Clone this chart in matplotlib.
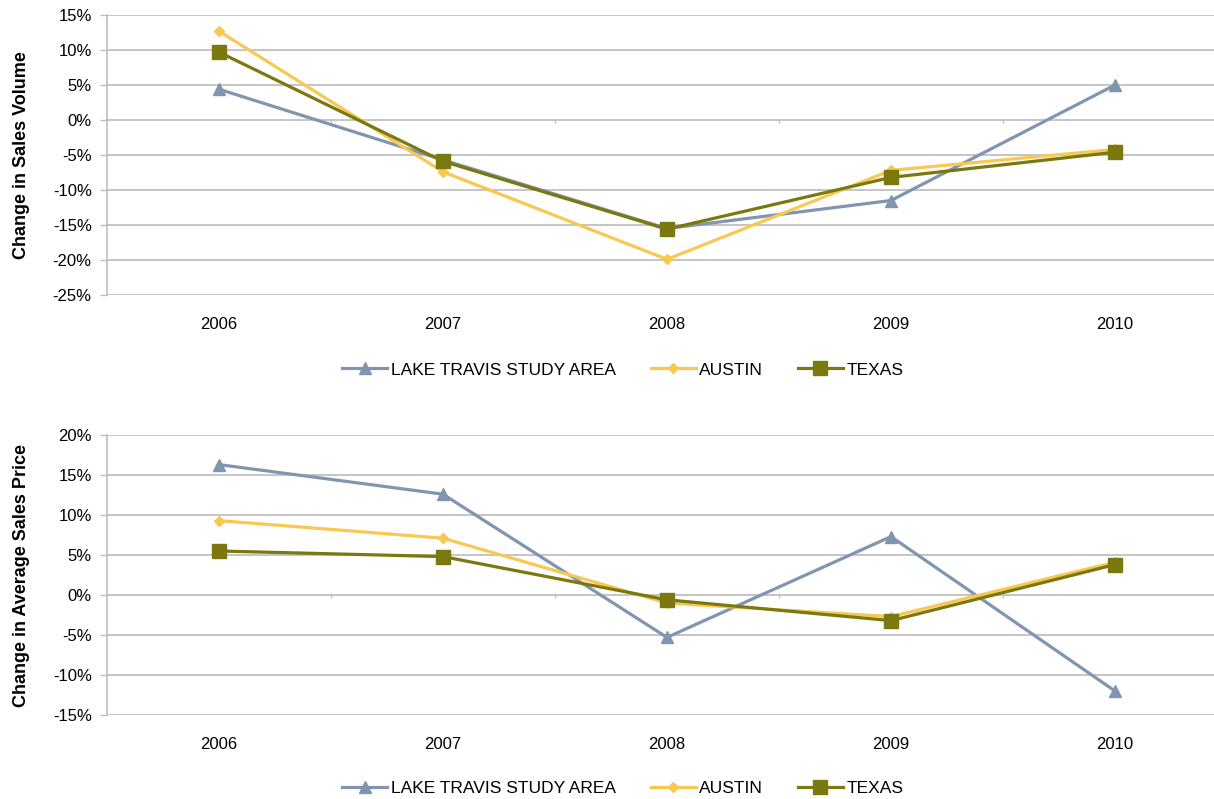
import numpy as np
import matplotlib
matplotlib.use('Agg')
import matplotlib.pyplot as plt
from matplotlib.ticker import FuncFormatter

plt.rcParams['font.family'] = ['Liberation Sans', 'DejaVu Sans']

years = ['2006', '2007', '2008', '2009', '2010']
series_names = ['LAKE TRAVIS STUDY AREA', 'AUSTIN', 'TEXAS']

# change in sales volume (%)
volume_lake = [4.4, -5.7, -15.5, -11.5, 5.0]
volume_austin = [12.7, -7.4, -19.9, -7.2, -4.2]
volume_texas = [9.7, -5.9, -15.6, -8.2, -4.6]

# change in average sales price (%)
price_lake = [16.3, 12.6, -5.3, 7.3, -12.0]
price_austin = [9.3, 7.1, -1.0, -2.7, 4.1]
price_texas = [5.5, 4.8, -0.6, -3.2, 3.8]

colors = ['#8096b0', '#f8c850', '#7b7810']
markers = ['^', 'D', 's']
msizes = [9, 5, 9.5]


def draw_panel(ax, data, ylabel, ylim):
    x = np.arange(len(years))
    for vals, name, c, m, ms in zip(data, series_names, colors, markers, msizes):
        ax.plot(x, vals, color=c, lw=2.3, marker=m, ms=ms, mec=c, mfc=c, label=name)
    ax.set_xlim(-0.5, len(years) - 0.5)
    ax.set_ylim(*ylim)
    ax.set_yticks(np.arange(ylim[0], ylim[1] + 1, 5))
    ax.yaxis.set_major_formatter(FuncFormatter(lambda v, p: f'{v:.0f}%'))
    ax.set_xticks(x)
    ax.set_xticklabels(years)
    ax.tick_params(axis='x', length=0, pad=16, labelsize=12)
    ax.tick_params(axis='y', length=5, color='#bdbdbd', width=1, labelsize=12, pad=6)
    ax.grid(axis='y', color='#c0c0c0', lw=1.3)
    ax.set_axisbelow(True)
    for s in ['top', 'right', 'bottom']:
        ax.spines[s].set_visible(False)
    ax.spines['left'].set_color('#bdbdbd')
    ax.spines['left'].set_linewidth(1.2)
    # small category ticks on the zero line
    ax.vlines(x[:-1] + 0.5, 0, -(ylim[1] - ylim[0]) * 0.012, color='#bdbdbd', lw=1)
    ax.set_ylabel(ylabel, fontsize=13, fontweight='bold')
    ax.yaxis.set_label_coords(-0.069, 0.5)


fig = plt.figure(figsize=(12.14, 7.99), dpi=100)
ax1 = fig.add_axes([0.0881, 0.6308, 0.9226, 0.3504])
ax2 = fig.add_axes([0.0881, 0.1051, 0.9226, 0.3505])

draw_panel(ax1, [volume_lake, volume_austin, volume_texas], 'Change in Sales Volume', (-25, 15))
draw_panel(ax2, [price_lake, price_austin, price_texas], 'Change in Average Sales Price', (-15, 20))

for ax, ly in [(ax1, 0.537), (ax2, 0.013)]:
    h, l = ax.get_legend_handles_labels()
    fig.legend(h, l, loc='center', bbox_to_anchor=(0.513, ly), ncol=3, frameon=False,
               fontsize=12.5, handlelength=2.6, columnspacing=2.0, handletextpad=0.2)

fig.savefig('out.png', dpi=100)
